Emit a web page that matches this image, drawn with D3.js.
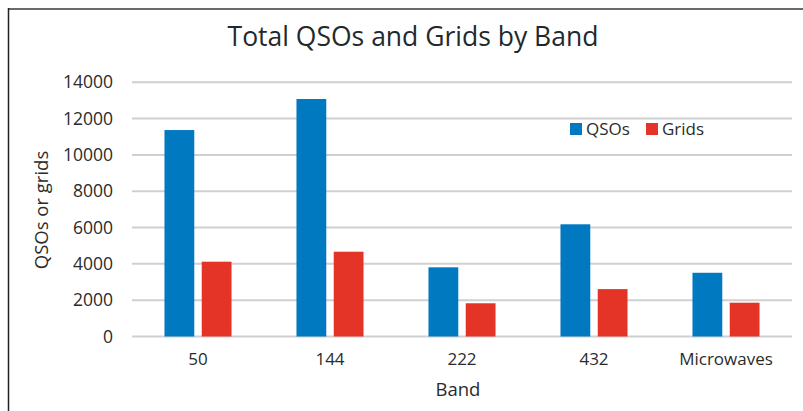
<!DOCTYPE html>
<html>
<head>
<meta charset="utf-8">
<script src="https://cdn.jsdelivr.net/npm/d3@7"></script>
<style>
  body { margin: 0; background: #fff; }
  text { font-family: "Open Sans", sans-serif; }
</style>
</head>
<body>
<div id="vis"></div>
<script>
const bands = ["50", "144", "222", "432", "Microwaves"];
const seriesNames = ["QSOs", "Grids"];
const qsos = [11370, 13080, 3810, 6180, 3510];
const grids = [4120, 4670, 1830, 2610, 1860];
const yTicks = [0, 2000, 4000, 6000, 8000, 10000, 12000, 14000];
const colors = ["#0079c1", "#e33427"];

const width = 803;
const height = 411;
const plot = {left: 132, right: 792, top: 82.3, bottom: 336.5};

const svg = d3.select("#vis").append("svg")
    .attr("width", width)
    .attr("height", height);

// frame
svg.append("line")
    .attr("x1", 8).attr("x2", width).attr("y1", 9).attr("y2", 9)
    .attr("stroke", "#6a6a6a").attr("stroke-width", 2);
svg.append("line")
    .attr("x1", 8.5).attr("x2", 8.5).attr("y1", 8).attr("y2", height)
    .attr("stroke", "#222").attr("stroke-width", 1.5);

const x0 = d3.scaleBand()
    .domain(bands)
    .range([plot.left, plot.right])
    .paddingInner(0.492)
    .paddingOuter(0.246);

const x1 = d3.scaleBand()
    .domain(seriesNames)
    .range([0, x0.bandwidth()])
    .paddingInner(0.2);

const y = d3.scaleLinear()
    .domain([0, 14000])
    .range([plot.bottom, plot.top]);

// gridlines
svg.append("g")
    .selectAll("line")
    .data(yTicks)
    .join("line")
    .attr("x1", plot.left)
    .attr("x2", plot.right)
    .attr("y1", d => y(d))
    .attr("y2", d => y(d))
    .attr("stroke", "#d0d0d0")
    .attr("stroke-width", 2);

// y axis labels
const yAxis = d3.axisLeft(y).tickValues(yTicks).tickFormat(d3.format("d")).tickSize(0).tickPadding(0);
const yg = svg.append("g")
    .attr("transform", `translate(${plot.left - 19},0)`)
    .call(yAxis);
yg.select(".domain").remove();
yg.selectAll("text")
    .attr("font-size", "17.5px")
    .attr("fill", "#2b2b2b")
    .attr("font-family", "Open Sans, sans-serif");

// x axis labels
const xAxis = d3.axisBottom(x0).tickSize(0).tickPadding(0);
const xg = svg.append("g")
    .attr("transform", `translate(0,${plot.bottom + 16})`)
    .call(xAxis);
xg.select(".domain").remove();
xg.selectAll("text")
    .attr("font-size", "17px")
    .attr("fill", "#2b2b2b")
    .attr("font-family", "Open Sans, sans-serif");

// bars
const rows = bands.map((b, i) => ({band: b, values: [qsos[i], grids[i]]}));
svg.append("g")
    .selectAll("g")
    .data(rows)
    .join("g")
    .attr("transform", d => `translate(${x0(d.band)},0)`)
    .selectAll("rect")
    .data(d => d.values.map((v, j) => ({key: seriesNames[j], value: v, j: j})))
    .join("rect")
    .attr("x", d => x1(d.key))
    .attr("y", d => y(d.value))
    .attr("width", x1.bandwidth())
    .attr("height", d => y(0) - y(d.value))
    .attr("fill", d => colors[d.j]);

// title
svg.append("text")
    .attr("x", 413)
    .attr("y", 46)
    .attr("text-anchor", "middle")
    .attr("font-size", "26.5px")
    .attr("fill", "#1f2a2c")
    .text("Total QSOs and Grids by Band");

// axis titles
svg.append("text")
    .attr("x", 458)
    .attr("y", 396)
    .attr("text-anchor", "middle")
    .attr("font-size", "18.5px")
    .attr("fill", "#2b2b2b")
    .text("Band");

svg.append("text")
    .attr("transform", "translate(48,210) rotate(-90)")
    .attr("text-anchor", "middle")
    .attr("font-size", "18.5px")
    .attr("fill", "#2b2b2b")
    .text("QSOs or grids");

// legend
const legendX = [570, 646];
const legend = svg.append("g");
seriesNames.forEach((name, i) => {
    legend.append("rect")
        .attr("x", legendX[i])
        .attr("y", 123)
        .attr("width", 12)
        .attr("height", 12)
        .attr("fill", colors[i]);
    legend.append("text")
        .attr("x", legendX[i] + 16)
        .attr("y", 135)
        .attr("font-size", "17px")
        .attr("fill", "#2b2b2b")
        .text(name);
});
</script>
</body>
</html>
